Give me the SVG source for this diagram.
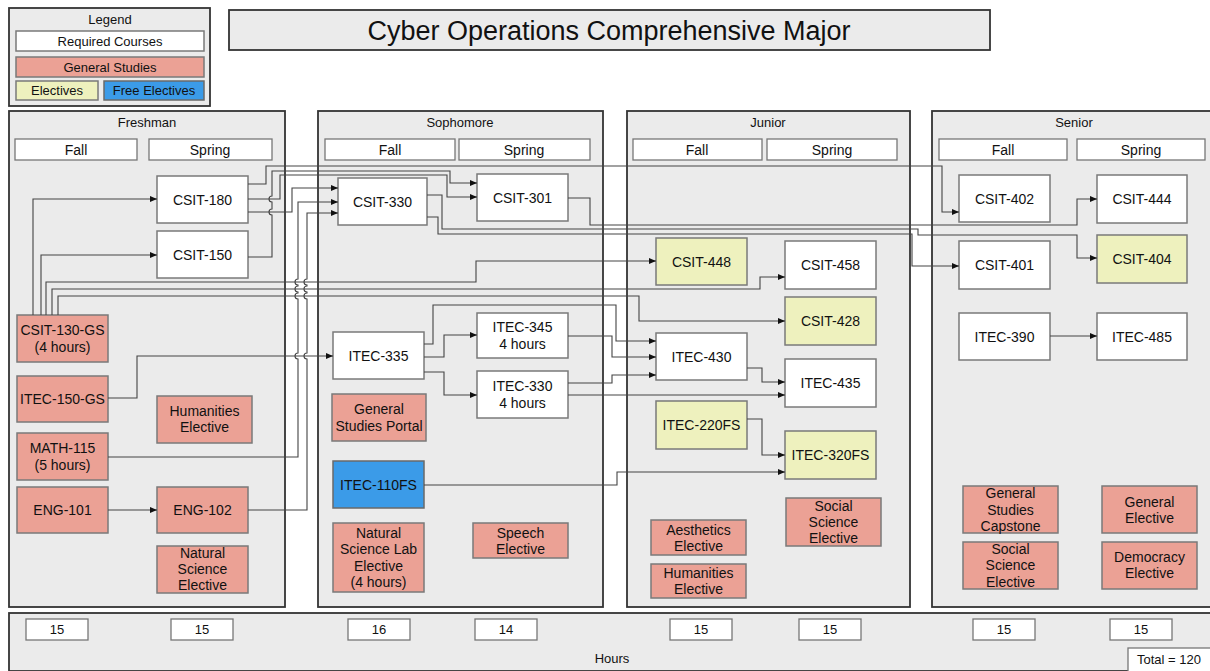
<svg xmlns="http://www.w3.org/2000/svg" width="1210" height="671" viewBox="0 0 1210 671">
<style>
text{font-family:"Liberation Sans",Arial,sans-serif;fill:#111;text-anchor:middle}
.panel{fill:#ebebeb;stroke:#333;stroke-width:1.8}
.hdr{fill:#fff;stroke:#777;stroke-width:1.3}
.req{fill:#fff;stroke:#7a7a7a;stroke-width:1.5}
.gs{fill:#eba195;stroke:#7a7a7a;stroke-width:1.5}
.el{fill:#eef1be;stroke:#7a7a7a;stroke-width:1.5}
.fe{fill:#3b9be8;stroke:#6a6a6a;stroke-width:1.5}
.n{font-size:14px}
.s{font-size:13px}
.c path{fill:none;stroke:#444;stroke-width:1.1}
.c path.a{marker-end:url(#ah)}
</style>
<defs>
<marker id="ah" markerUnits="userSpaceOnUse" markerWidth="8" markerHeight="6" refX="7" refY="3" orient="auto">
<path d="M0,0 L7,3 L0,6 z" fill="#111"/>
</marker>
</defs>
<rect width="1210" height="671" fill="#fff"/>

<g id="legend">
<rect class="panel" x="9" y="8" width="201" height="98"/>
<text class="s" x="110" y="24">Legend</text>
<rect class="req" x="16" y="31" width="188" height="20"/>
<text class="s" x="110" y="46">Required Courses</text>
<rect class="gs" x="16" y="57" width="188" height="20"/>
<text class="s" x="110" y="72">General Studies</text>
<rect class="el" x="16" y="81" width="82" height="19"/>
<text class="s" x="57" y="95">Electives</text>
<rect class="fe" x="104" y="81" width="100" height="19"/>
<text class="s" x="154" y="95">Free Electives</text>
</g>

<g id="title">
<rect class="panel" x="229" y="10" width="761" height="40"/>
<text x="609" y="40" font-size="27">Cyber Operations Comprehensive Major</text>
</g>

<g id="freshman">
<rect class="panel" x="9" y="111" width="276" height="496"/>
<text class="s" x="147" y="127">Freshman</text>
<rect class="hdr" x="15" y="139" width="122" height="21"/><text class="n" x="76" y="155">Fall</text>
<rect class="hdr" x="149" y="139" width="123" height="21"/><text class="n" x="210" y="155">Spring</text>
</g>
<g id="sophomore">
<rect class="panel" x="318" y="111" width="285" height="496"/>
<text class="s" x="460" y="127">Sophomore</text>
<rect class="hdr" x="325" y="139" width="130" height="21"/><text class="n" x="390" y="155">Fall</text>
<rect class="hdr" x="459" y="139" width="131" height="21"/><text class="n" x="524" y="155">Spring</text>
</g>
<g id="junior">
<rect class="panel" x="627" y="111" width="283" height="496"/>
<text class="s" x="768" y="127">Junior</text>
<rect class="hdr" x="633" y="139" width="129" height="21"/><text class="n" x="697" y="155">Fall</text>
<rect class="hdr" x="767" y="139" width="130" height="21"/><text class="n" x="832" y="155">Spring</text>
</g>
<g id="senior">
<rect class="panel" x="932" y="111" width="285" height="496"/>
<text class="s" x="1074" y="127">Senior</text>
<rect class="hdr" x="939" y="139" width="128" height="21"/><text class="n" x="1003" y="155">Fall</text>
<rect class="hdr" x="1077" y="139" width="128" height="21"/><text class="n" x="1141" y="155">Spring</text>
</g>

<g id="hours">
<rect class="panel" x="9" y="613" width="1210" height="58"/>
<rect class="hdr" x="26" y="619" width="62" height="21"/><text class="s" x="57" y="634">15</text>
<rect class="hdr" x="171" y="619" width="62" height="21"/><text class="s" x="202" y="634">15</text>
<rect class="hdr" x="348" y="619" width="62" height="21"/><text class="s" x="379" y="634">16</text>
<rect class="hdr" x="475" y="619" width="62" height="21"/><text class="s" x="506" y="634">14</text>
<rect class="hdr" x="670" y="619" width="62" height="21"/><text class="s" x="701" y="634">15</text>
<rect class="hdr" x="799" y="619" width="62" height="21"/><text class="s" x="830" y="634">15</text>
<rect class="hdr" x="973" y="619" width="62" height="21"/><text class="s" x="1004" y="634">15</text>
<rect class="hdr" x="1110" y="619" width="62" height="21"/><text class="s" x="1141" y="634">15</text>
<text class="s" x="612" y="663">Hours</text>
<rect class="hdr" x="1128" y="648" width="90" height="25"/><text class="s" x="1169" y="664">Total = 120</text>
</g>

<g id="csit180"><rect class="req" x="157" y="176" width="91" height="47"/><text class="n" x="202.5" y="204.5">CSIT-180</text></g>
<g id="csit150"><rect class="req" x="157" y="231" width="91" height="47"/><text class="n" x="202.5" y="259.5">CSIT-150</text></g>
<g id="csit130gs"><rect class="gs" x="17" y="315" width="91" height="47"/><text class="n" x="62.5" y="335">CSIT-130-GS</text><text class="n" x="62.5" y="352">(4 hours)</text></g>
<g id="itec150gs"><rect class="gs" x="17" y="376" width="91" height="46"/><text class="n" x="62.5" y="404">ITEC-150-GS</text></g>
<g id="humanities1"><rect class="gs" x="157" y="396" width="95" height="47"/><text class="n" x="204.5" y="416">Humanities</text><text class="n" x="204.5" y="432">Elective</text></g>
<g id="math115"><rect class="gs" x="17" y="433" width="91" height="47"/><text class="n" x="62.5" y="453">MATH-115</text><text class="n" x="62.5" y="470">(5 hours)</text></g>
<g id="eng101"><rect class="gs" x="17" y="487" width="91" height="46"/><text class="n" x="62.5" y="515">ENG-101</text></g>
<g id="eng102"><rect class="gs" x="157" y="487" width="91" height="46"/><text class="n" x="202.5" y="515">ENG-102</text></g>
<g id="natsci1"><rect class="gs" x="157" y="546" width="91" height="47"/><text class="n" x="202.5" y="558">Natural</text><text class="n" x="202.5" y="574">Science</text><text class="n" x="202.5" y="590">Elective</text></g>

<g id="csit330"><rect class="req" x="338" y="178" width="89" height="47"/><text class="n" x="382.5" y="206.5">CSIT-330</text></g>
<g id="csit301"><rect class="req" x="477" y="174" width="91" height="47"/><text class="n" x="522.5" y="202.5">CSIT-301</text></g>
<g id="itec335"><rect class="req" x="333" y="332" width="91" height="47"/><text class="n" x="378.5" y="360.5">ITEC-335</text></g>
<g id="itec345"><rect class="req" x="477" y="313" width="91" height="45"/><text class="n" x="522.5" y="332">ITEC-345</text><text class="n" x="522.5" y="349">4 hours</text></g>
<g id="itec330"><rect class="req" x="477" y="371" width="91" height="47"/><text class="n" x="522.5" y="391">ITEC-330</text><text class="n" x="522.5" y="408">4 hours</text></g>
<g id="gsportal"><rect class="gs" x="332" y="394" width="94" height="47"/><text class="n" x="379" y="414">General</text><text class="n" x="379" y="431">Studies Portal</text></g>
<g id="itec110fs"><rect class="fe" x="333" y="461" width="91" height="47"/><text class="n" x="378.5" y="489.5">ITEC-110FS</text></g>
<g id="natscilab"><rect class="gs" x="333" y="523" width="91" height="69"/><text class="n" x="378.5" y="538">Natural</text><text class="n" x="378.5" y="554">Science Lab</text><text class="n" x="378.5" y="571">Elective</text><text class="n" x="378.5" y="587">(4 hours)</text></g>
<g id="speech"><rect class="gs" x="473" y="523" width="95" height="35"/><text class="n" x="520.5" y="538">Speech</text><text class="n" x="520.5" y="554">Elective</text></g>

<g id="csit448"><rect class="el" x="656" y="238" width="91" height="47"/><text class="n" x="701.5" y="266.5">CSIT-448</text></g>
<g id="csit458"><rect class="req" x="785" y="241" width="91" height="48"/><text class="n" x="830.5" y="270">CSIT-458</text></g>
<g id="csit428"><rect class="el" x="785" y="297" width="91" height="48"/><text class="n" x="830.5" y="326">CSIT-428</text></g>
<g id="itec430"><rect class="req" x="656" y="333" width="91" height="47"/><text class="n" x="701.5" y="361.5">ITEC-430</text></g>
<g id="itec435"><rect class="req" x="785" y="359" width="91" height="48"/><text class="n" x="830.5" y="388">ITEC-435</text></g>
<g id="itec220fs"><rect class="el" x="656" y="401" width="91" height="48"/><text class="n" x="701.5" y="430">ITEC-220FS</text></g>
<g id="itec320fs"><rect class="el" x="785" y="431" width="91" height="48"/><text class="n" x="830.5" y="460">ITEC-320FS</text></g>
<g id="socsci1"><rect class="gs" x="786" y="498" width="95" height="48"/><text class="n" x="833.5" y="511">Social</text><text class="n" x="833.5" y="527">Science</text><text class="n" x="833.5" y="543">Elective</text></g>
<g id="aesthetics"><rect class="gs" x="651" y="520" width="95" height="35"/><text class="n" x="698.5" y="535">Aesthetics</text><text class="n" x="698.5" y="551">Elective</text></g>
<g id="humanities2"><rect class="gs" x="651" y="564" width="95" height="34"/><text class="n" x="698.5" y="578">Humanities</text><text class="n" x="698.5" y="594">Elective</text></g>

<g id="csit402"><rect class="req" x="959" y="175" width="91" height="47"/><text class="n" x="1004.5" y="203.5">CSIT-402</text></g>
<g id="csit444"><rect class="req" x="1097" y="175" width="90" height="48"/><text class="n" x="1142" y="204">CSIT-444</text></g>
<g id="csit401"><rect class="req" x="959" y="241" width="91" height="48"/><text class="n" x="1004.5" y="270">CSIT-401</text></g>
<g id="csit404"><rect class="el" x="1097" y="235" width="90" height="48"/><text class="n" x="1142" y="264">CSIT-404</text></g>
<g id="itec390"><rect class="req" x="959" y="313" width="91" height="47"/><text class="n" x="1004.5" y="341.5">ITEC-390</text></g>
<g id="itec485"><rect class="req" x="1097" y="313" width="90" height="47"/><text class="n" x="1142" y="341.5">ITEC-485</text></g>
<g id="gscapstone"><rect class="gs" x="963" y="486" width="95" height="47"/><text class="n" x="1010.5" y="498">General</text><text class="n" x="1010.5" y="515">Studies</text><text class="n" x="1010.5" y="531">Capstone</text></g>
<g id="socsci2"><rect class="gs" x="963" y="542" width="95" height="47"/><text class="n" x="1010.5" y="554">Social</text><text class="n" x="1010.5" y="570">Science</text><text class="n" x="1010.5" y="587">Elective</text></g>
<g id="genelective"><rect class="gs" x="1102" y="486" width="95" height="47"/><text class="n" x="1149.5" y="507">General</text><text class="n" x="1149.5" y="523">Elective</text></g>
<g id="democracy"><rect class="gs" x="1102" y="542" width="95" height="47"/><text class="n" x="1149.5" y="562">Democracy</text><text class="n" x="1149.5" y="578">Elective</text></g>

<g id="connectors" class="c">
<path class="a" d="M33 315 V199 H157"/>
<path class="a" d="M41 315 V255 H157"/>
<path class="a" d="M46 315 V282 H476 V261 H656"/>
<path class="a" d="M52 315 V289 H760 V277 H785"/>
<path class="a" d="M58 315 V296 H639 V321 H785"/>
<path class="a" d="M248 184 H266 V166 H942 V212 H959"/>
<path class="a" d="M248 199 H280 V175 H447 V197 H477"/>
<path class="a" d="M248 257 H272 V215 A3 3 0 0 1 272 209 V202 A3 3 0 0 1 272 196 V171 H450 V183 H477"/>
<path class="a" d="M248 212 H292 V188 H338"/>
<path class="a" d="M108 457 H298 V359 A3 3 0 0 1 298 353 V299 A3 3 0 0 1 298 293 V292 A3 3 0 0 1 298 286 V285 A3 3 0 0 1 298 279 V202 H338"/>
<path class="a" d="M248 510 H307 V359 A3 3 0 0 1 307 353 V299 A3 3 0 0 1 307 293 V292 A3 3 0 0 1 307 286 V285 A3 3 0 0 1 307 279 V213 H338"/>
<path class="a" d="M108 398 H137 V356 H333"/>
<path class="a" d="M108 510 H157"/>
<path class="a" d="M568 198 H590 V225 H1077 V199 H1097"/>
<path class="a" d="M427 195 H442 V229 H918 V235 H1077 V258 H1097"/>
<path class="a" d="M427 217 H438 V234 H912 V266 H959"/>
<path class="a" d="M424 344 H433 V305 H616 V341 H656"/>
<path class="a" d="M424 357 H444 V335 H477"/>
<path class="a" d="M424 372 H444 V395 H477"/>
<path class="a" d="M568 336 H612 V357 H656"/>
<path class="a" d="M568 383 H612 V375 H656"/>
<path class="a" d="M568 395 H785"/>
<path class="a" d="M747 368 H762 V382 H785"/>
<path class="a" d="M747 419 H762 V455 H785"/>
<path class="a" d="M424 485 H617 V472 H785"/>
<path class="a" d="M1050 336 H1097"/>
</g>
</svg>
